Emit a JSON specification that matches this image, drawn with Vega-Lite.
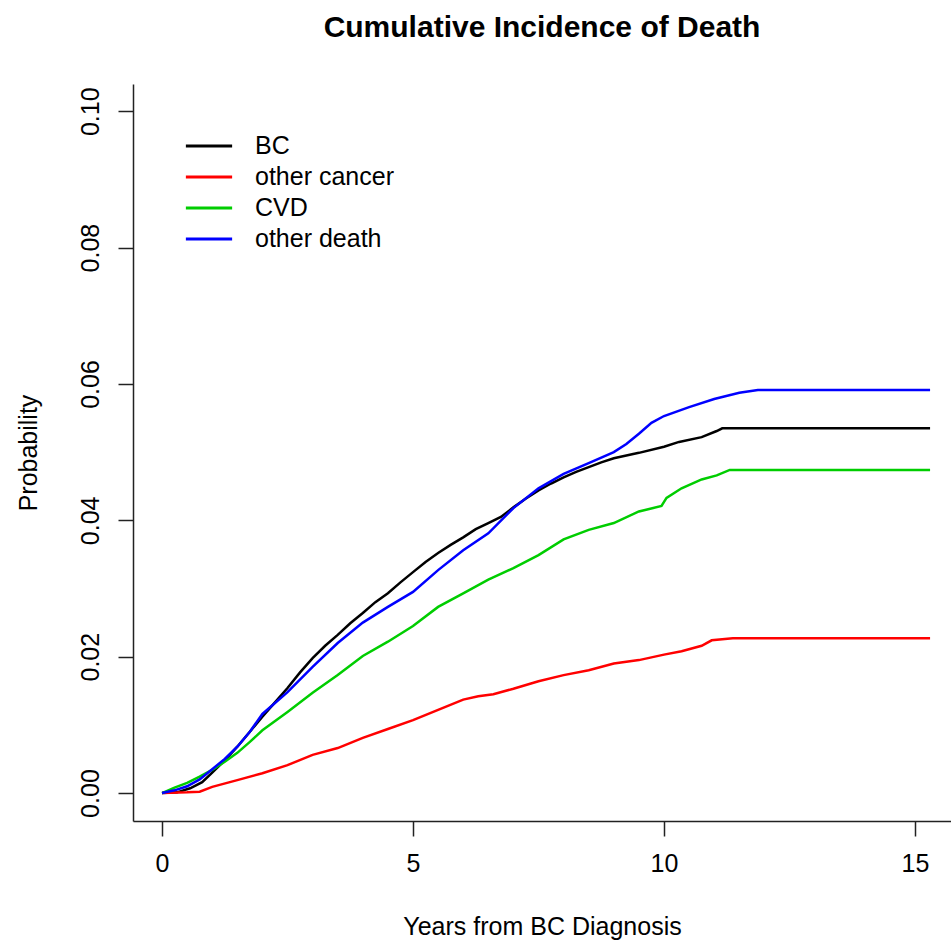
{
  "$schema": "https://vega.github.io/schema/vega-lite/v6.json",
  "width": 818,
  "height": 737,
  "autosize": {"type": "none"},
  "padding": {"left": 133, "top": 84, "right": 0, "bottom": 127},
  "background": "white",
  "title": {
    "text": "Cumulative Incidence of Death",
    "font": "Liberation Sans",
    "fontSize": 30,
    "fontWeight": "bold",
    "color": "black",
    "anchor": "middle",
    "baseline": "alphabetic",
    "offset": 17
  },
  "data": {
    "values": [
      {"t": 0, "p": 0, "cause": "BC"},
      {"t": 0.3, "p": 0.0001, "cause": "BC"},
      {"t": 0.56, "p": 0.0007, "cause": "BC"},
      {"t": 0.8, "p": 0.0016, "cause": "BC"},
      {"t": 1, "p": 0.003, "cause": "BC"},
      {"t": 1.25, "p": 0.0048, "cause": "BC"},
      {"t": 1.5, "p": 0.0068, "cause": "BC"},
      {"t": 1.75, "p": 0.009, "cause": "BC"},
      {"t": 2, "p": 0.0112, "cause": "BC"},
      {"t": 2.25, "p": 0.0133, "cause": "BC"},
      {"t": 2.5, "p": 0.0154, "cause": "BC"},
      {"t": 2.75, "p": 0.0177, "cause": "BC"},
      {"t": 3, "p": 0.0198, "cause": "BC"},
      {"t": 3.25, "p": 0.0216, "cause": "BC"},
      {"t": 3.5, "p": 0.0232, "cause": "BC"},
      {"t": 3.75, "p": 0.0249, "cause": "BC"},
      {"t": 4, "p": 0.0264, "cause": "BC"},
      {"t": 4.25, "p": 0.028, "cause": "BC"},
      {"t": 4.5, "p": 0.0293, "cause": "BC"},
      {"t": 4.75, "p": 0.0309, "cause": "BC"},
      {"t": 5, "p": 0.0324, "cause": "BC"},
      {"t": 5.25, "p": 0.0339, "cause": "BC"},
      {"t": 5.5, "p": 0.0352, "cause": "BC"},
      {"t": 5.75, "p": 0.0364, "cause": "BC"},
      {"t": 6, "p": 0.0375, "cause": "BC"},
      {"t": 6.25, "p": 0.0387, "cause": "BC"},
      {"t": 6.5, "p": 0.0396, "cause": "BC"},
      {"t": 6.75, "p": 0.0405, "cause": "BC"},
      {"t": 7, "p": 0.0419, "cause": "BC"},
      {"t": 7.25, "p": 0.0432, "cause": "BC"},
      {"t": 7.5, "p": 0.0444, "cause": "BC"},
      {"t": 7.75, "p": 0.0454, "cause": "BC"},
      {"t": 8, "p": 0.0463, "cause": "BC"},
      {"t": 8.25, "p": 0.0471, "cause": "BC"},
      {"t": 8.5, "p": 0.0478, "cause": "BC"},
      {"t": 8.75, "p": 0.0485, "cause": "BC"},
      {"t": 9, "p": 0.0491, "cause": "BC"},
      {"t": 9.5, "p": 0.0499, "cause": "BC"},
      {"t": 10, "p": 0.0508, "cause": "BC"},
      {"t": 10.3, "p": 0.0515, "cause": "BC"},
      {"t": 10.75, "p": 0.0522, "cause": "BC"},
      {"t": 11.05, "p": 0.0531, "cause": "BC"},
      {"t": 11.16, "p": 0.0535, "cause": "BC"},
      {"t": 15.3, "p": 0.0535, "cause": "BC"},

      {"t": 0, "p": 0, "cause": "other cancer"},
      {"t": 0.5, "p": 0.0001, "cause": "other cancer"},
      {"t": 0.75, "p": 0.0002, "cause": "other cancer"},
      {"t": 1, "p": 0.0009, "cause": "other cancer"},
      {"t": 1.5, "p": 0.0019, "cause": "other cancer"},
      {"t": 2, "p": 0.0029, "cause": "other cancer"},
      {"t": 2.5, "p": 0.0041, "cause": "other cancer"},
      {"t": 3, "p": 0.0056, "cause": "other cancer"},
      {"t": 3.5, "p": 0.0066, "cause": "other cancer"},
      {"t": 4, "p": 0.0081, "cause": "other cancer"},
      {"t": 4.5, "p": 0.0094, "cause": "other cancer"},
      {"t": 5, "p": 0.0107, "cause": "other cancer"},
      {"t": 5.5, "p": 0.0122, "cause": "other cancer"},
      {"t": 6, "p": 0.0137, "cause": "other cancer"},
      {"t": 6.3, "p": 0.0142, "cause": "other cancer"},
      {"t": 6.6, "p": 0.0145, "cause": "other cancer"},
      {"t": 7, "p": 0.0153, "cause": "other cancer"},
      {"t": 7.5, "p": 0.0164, "cause": "other cancer"},
      {"t": 8, "p": 0.0173, "cause": "other cancer"},
      {"t": 8.5, "p": 0.018, "cause": "other cancer"},
      {"t": 9, "p": 0.019, "cause": "other cancer"},
      {"t": 9.5, "p": 0.0195, "cause": "other cancer"},
      {"t": 10, "p": 0.0203, "cause": "other cancer"},
      {"t": 10.35, "p": 0.0208, "cause": "other cancer"},
      {"t": 10.75, "p": 0.0216, "cause": "other cancer"},
      {"t": 10.95, "p": 0.0224, "cause": "other cancer"},
      {"t": 11.37, "p": 0.0227, "cause": "other cancer"},
      {"t": 15.3, "p": 0.0227, "cause": "other cancer"},

      {"t": 0, "p": 0, "cause": "CVD"},
      {"t": 0.25, "p": 0.0008, "cause": "CVD"},
      {"t": 0.5, "p": 0.0015, "cause": "CVD"},
      {"t": 0.75, "p": 0.0024, "cause": "CVD"},
      {"t": 1, "p": 0.0034, "cause": "CVD"},
      {"t": 1.25, "p": 0.0046, "cause": "CVD"},
      {"t": 1.5, "p": 0.0059, "cause": "CVD"},
      {"t": 1.75, "p": 0.0075, "cause": "CVD"},
      {"t": 2, "p": 0.0092, "cause": "CVD"},
      {"t": 2.5, "p": 0.0119, "cause": "CVD"},
      {"t": 3, "p": 0.0147, "cause": "CVD"},
      {"t": 3.5, "p": 0.0173, "cause": "CVD"},
      {"t": 4, "p": 0.0201, "cause": "CVD"},
      {"t": 4.5, "p": 0.0222, "cause": "CVD"},
      {"t": 5, "p": 0.0245, "cause": "CVD"},
      {"t": 5.5, "p": 0.0273, "cause": "CVD"},
      {"t": 6, "p": 0.0293, "cause": "CVD"},
      {"t": 6.5, "p": 0.0313, "cause": "CVD"},
      {"t": 7, "p": 0.033, "cause": "CVD"},
      {"t": 7.5, "p": 0.0349, "cause": "CVD"},
      {"t": 8, "p": 0.0372, "cause": "CVD"},
      {"t": 8.5, "p": 0.0386, "cause": "CVD"},
      {"t": 9, "p": 0.0396, "cause": "CVD"},
      {"t": 9.5, "p": 0.0413, "cause": "CVD"},
      {"t": 9.95, "p": 0.0421, "cause": "CVD"},
      {"t": 10.05, "p": 0.0433, "cause": "CVD"},
      {"t": 10.35, "p": 0.0447, "cause": "CVD"},
      {"t": 10.75, "p": 0.046, "cause": "CVD"},
      {"t": 11.05, "p": 0.0466, "cause": "CVD"},
      {"t": 11.31, "p": 0.0474, "cause": "CVD"},
      {"t": 15.3, "p": 0.0474, "cause": "CVD"},

      {"t": 0, "p": 0, "cause": "other death"},
      {"t": 0.25, "p": 0.0004, "cause": "other death"},
      {"t": 0.5, "p": 0.001, "cause": "other death"},
      {"t": 0.75, "p": 0.002, "cause": "other death"},
      {"t": 1, "p": 0.0035, "cause": "other death"},
      {"t": 1.25, "p": 0.005, "cause": "other death"},
      {"t": 1.5, "p": 0.0068, "cause": "other death"},
      {"t": 1.75, "p": 0.009, "cause": "other death"},
      {"t": 2, "p": 0.0116, "cause": "other death"},
      {"t": 2.5, "p": 0.0148, "cause": "other death"},
      {"t": 3, "p": 0.0185, "cause": "other death"},
      {"t": 3.5, "p": 0.022, "cause": "other death"},
      {"t": 4, "p": 0.025, "cause": "other death"},
      {"t": 4.5, "p": 0.0273, "cause": "other death"},
      {"t": 5, "p": 0.0295, "cause": "other death"},
      {"t": 5.5, "p": 0.0327, "cause": "other death"},
      {"t": 6, "p": 0.0356, "cause": "other death"},
      {"t": 6.5, "p": 0.0381, "cause": "other death"},
      {"t": 7, "p": 0.0418, "cause": "other death"},
      {"t": 7.5, "p": 0.0447, "cause": "other death"},
      {"t": 8, "p": 0.0468, "cause": "other death"},
      {"t": 8.5, "p": 0.0484, "cause": "other death"},
      {"t": 9, "p": 0.05, "cause": "other death"},
      {"t": 9.25, "p": 0.0512, "cause": "other death"},
      {"t": 9.5, "p": 0.0527, "cause": "other death"},
      {"t": 9.75, "p": 0.0543, "cause": "other death"},
      {"t": 10, "p": 0.0553, "cause": "other death"},
      {"t": 10.5, "p": 0.0566, "cause": "other death"},
      {"t": 11, "p": 0.0578, "cause": "other death"},
      {"t": 11.5, "p": 0.0587, "cause": "other death"},
      {"t": 11.87, "p": 0.0591, "cause": "other death"},
      {"t": 15.3, "p": 0.0591, "cause": "other death"}
    ]
  },
  "mark": {"type": "line", "strokeWidth": 2.5, "interpolate": "linear"},
  "encoding": {
    "x": {
      "field": "t",
      "type": "quantitative",
      "scale": {"domain": [-0.578, 15.717], "nice": false, "zero": false},
      "axis": {
        "title": "Years from BC Diagnosis",
        "values": [0, 5, 10, 15],
        "format": "d",
        "grid": false,
        "tickSize": 15,
        "labelPadding": 15,
        "titlePadding": 38
      }
    },
    "y": {
      "field": "p",
      "type": "quantitative",
      "scale": {"domain": [-0.0041, 0.104], "nice": false, "zero": false},
      "axis": {
        "title": "Probability",
        "values": [0, 0.02, 0.04, 0.06, 0.08, 0.1],
        "format": ".2f",
        "grid": false,
        "tickSize": 15,
        "labelAngle": -90,
        "labelAlign": "center",
        "labelBaseline": "alphabetic",
        "labelPadding": 20,
        "titlePadding": 37
      }
    },
    "color": {
      "field": "cause",
      "type": "nominal",
      "sort": ["BC", "other cancer", "CVD", "other death"],
      "scale": {
        "domain": ["BC", "other cancer", "CVD", "other death"],
        "range": ["#000000", "#FF0000", "#00CD00", "#0000FF"]
      },
      "legend": {
        "title": null,
        "orient": "none",
        "legendX": 62,
        "legendY": 48,
        "padding": 0,
        "symbolType": "M-1.85,0H1.85",
        "symbolSize": 625,
        "symbolStrokeWidth": 3,
        "labelFontSize": 25,
        "labelFont": "Liberation Sans",
        "labelColor": "black",
        "labelOffset": 32,
        "rowPadding": 4
      }
    }
  },
  "config": {
    "view": {"stroke": null},
    "font": "Liberation Sans",
    "axis": {
      "domainColor": "#222222",
      "domainWidth": 1.5,
      "tickColor": "#222222",
      "tickWidth": 1.5,
      "labelFont": "Liberation Sans",
      "labelFontSize": 25,
      "labelColor": "black",
      "titleFont": "Liberation Sans",
      "titleFontSize": 25,
      "titleFontWeight": "normal",
      "titleColor": "black"
    }
  }
}
